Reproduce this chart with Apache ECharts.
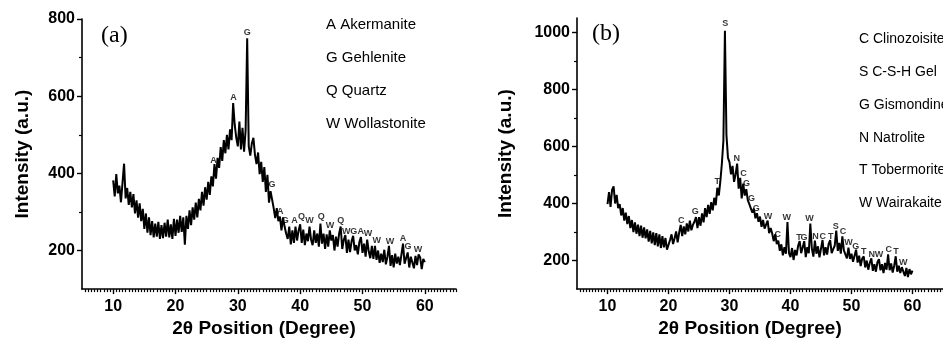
<!DOCTYPE html>
<html><head><meta charset="utf-8">
<script src="https://cdn.jsdelivr.net/npm/echarts@6/dist/echarts.min.js"></script>
<style>html,body{margin:0;padding:0;background:#fff}#c{width:943px;height:343px}</style>
</head><body><div id="c"></div>
<script>
// ---- data ----
const twoThetaStart = 10;
const twoThetaStep = 0.25;
// panel (a): intensity every 0.25 degree from 10 to 60
const intensityA = [
 382,340,398,348, 368,325,376,425, 335,362,318,352, 312,346,296,330,
 285,322,276,308, 256,296,246,286, 240,276,234,270, 236,274,230,266,
 232,272,236,280, 234,268,230,282, 238,280,246,290, 248,286,215,290,
 256,304,266,312, 280,324,286,334, 304,352,316,364, 332,378,344,392,
 366,424,386,440, 414,468,432,486, 452,500,462,514, 486,582,526,492,
 470,534,462,518, 456,512,750,470, 446,478,492,448, 424,454,398,430,
 378,416,352,396, 324,354,356,310, 284,310,276,288, 252,286,262,244,
 230,262,216,252, 220,262,226,252, 268,220,254,214, 244,224,262,228,
 214,252,220,244, 210,270,218,244, 204,242,210,252, 226,240,200,236,
 210,244,262,204, 228,240,194,228, 196,224,238,200, 214,190,222,235,
 194,218,184,228, 198,180,212,178, 212,176,200,168, 192,170,202,164,
 184,212,160,188, 156,192,166,184, 162,190,218,166, 162,195,156,184,
 180,154,186,162, 190,182,152,178, 170
];
// panel (b): intensity every 0.25 degree from 10 to 60
const intensityB = [
 398,440,388,448, 460,400,430,384, 398,358,384,340, 368,328,356,314,
 342,300,334,294, 326,286,322,280, 316,278,309,266, 304,260,299,254,
 296,250,292,244, 286,246,279,238, 232,272,292,258, 278,302,264,298,
 325,286,320,292, 330,302,340,306, 325,336,352,314, 352,322,365,334,
 384,352,395,364, 405,376,420,394, 455,428,478,540, 620,1005,640,560,
 545,502,532,476, 502,540,452,490, 418,470,428,450, 412,398,400,368,
 382,348,366,336, 354,318,342,312, 326,340,296,314, 295,268,292,258,
 270,234,257,218, 247,224,335,226, 212,244,202,237, 218,252,268,226,
 222,268,212,247, 226,330,242,214, 270,224,250,211, 242,272,218,247,
 221,258,272,226, 240,252,305,234, 262,224,285,236, 230,208,245,206,
 224,196,217,238, 193,217,181,207, 215,176,200,168, 192,208,164,187,
 161,194,205,166, 187,156,192,168, 222,166,190,158, 182,215,161,182,
 156,177,175,146, 174,142,170,152, 165
];
// phase letters: [letter, 2theta, intensity at label]
const peakLabelsA = [
 ['A',26.1,434],['A',29.3,597],['G',31.5,764],['G',35.5,371],['A',36.8,302],['G',37.6,277],
 ['A',39.1,277],['Q',40.2,287],['W',41.5,277],['Q',43.4,287],['W',44.8,266],['Q',46.5,279],
 ['W',47.4,249],['G',48.6,249],['A',49.7,249],['W',50.9,244],['W',52.3,227],['W',54.4,223],
 ['A',56.5,232],['G',57.3,210],['W',58.9,202]
];
const peakLabelsB = [
 ['C',22.1,340],['G',24.4,371],['T',28.0,478],['S',29.3,1032],['N',31.2,556],['C',32.3,504],
 ['G',32.8,469],['G',33.6,417],['G',34.4,383],['W',36.3,354],['C',37.9,291],['W',39.4,352],
 ['T',41.4,282],['G',42.2,282],['W',43.1,348],['N',44.1,285],['C',45.3,283],['T',46.6,283],
 ['S',47.4,319],['C',48.6,302],['W',49.5,262],['G',50.7,250],['T',52.0,233],['N',53.3,221],
 ['W',54.5,221],['C',56.1,239],['T',57.3,233],['W',58.5,192]
];
const legendA = ['A Akermanite','G Gehlenite','Q Quartz','W Wollastonite'];
const legendB = ['C Clinozoisite','S C-S-H Gel','G Gismondine','N Natrolite','T Tobermorite','W Wairakaite'];
const panelLabels = ['(a)','(b)'];
const xTicks = [10,20,30,40,50,60];
const yTicksA = [200,400,600,800];
const yTicksB = [200,400,600,800,1000];
const yMinorA = [300,500,700];
const yMinorB = [300,500,700,900];
const xTitle = '2θ Position (Degree)';
const yTitle = 'Intensity (a.u.)';

// ---- build ----
const FONT = '"Liberation Sans", Arial, sans-serif';
const xMinor = [];
for (let v = 5.5; v <= 65; v += 0.5) { if (Math.abs(v/10 - Math.round(v/10)) > 1e-6) xMinor.push(v); }
function pairs(arr){ return arr.map((v,i)=>[twoThetaStart + i*twoThetaStep, v]); }
const plain = v => String(v);

function xMain(g, padRight){
  return {type:'value', gridIndex:g, position:'bottom', min:5, max:65,
    axisLine:{show:true,onZero:false,lineStyle:{color:'#000',width:1.6}},
    axisTick:{show:true,customValues:xTicks,length:5,lineStyle:{color:'#000',width:1.4}},
    axisLabel:{show:true,customValues:xTicks,formatter:plain,margin:9,color:'#000',fontSize:16,fontWeight:'bold',fontFamily:FONT},
    splitLine:{show:false},
    name:xTitle,nameLocation:'middle',nameGap:29,
    nameTextStyle:{color:'#000',fontSize:19,fontWeight:'bold',fontFamily:FONT,padding:[0,padRight,0,0]}};
}
function xMin(g){
  return {type:'value', gridIndex:g, position:'bottom', min:5, max:65,
    axisLine:{show:false,onZero:false}, axisLabel:{show:false}, splitLine:{show:false},
    axisTick:{show:true,customValues:xMinor,length:3,lineStyle:{color:'#000',width:1.2}}};
}
function yMain(g, max, ticks, gap){
  return {type:'value', gridIndex:g, position:'left', min:100, max:max,
    axisLine:{show:true,onZero:false,lineStyle:{color:'#000',width:1.6}},
    axisTick:{show:true,customValues:ticks,length:5,lineStyle:{color:'#000',width:1.4}},
    axisLabel:{show:true,customValues:ticks,formatter:plain,margin:7,color:'#000',fontSize:16,fontWeight:'bold',fontFamily:FONT},
    splitLine:{show:false},
    name:yTitle,nameLocation:'middle',nameGap:gap,
    nameTextStyle:{color:'#000',fontSize:19,fontWeight:'bold',fontFamily:FONT}};
}
function yMin(g, max, ticks){
  return {type:'value', gridIndex:g, position:'left', min:100, max:max,
    axisLine:{show:false,onZero:false}, axisLabel:{show:false}, splitLine:{show:false},
    axisTick:{show:true,customValues:ticks,length:3,lineStyle:{color:'#000',width:1.2}}};
}
function labelSeries(list, ax){
  return {type:'scatter', xAxisIndex:ax, yAxisIndex:ax, symbolSize:0, silent:true, z:5,
    data: list.map(p=>({value:[p[1],p[2]], label:{formatter:p[0]}})),
    label:{show:true,position:'inside',fontSize:9,fontWeight:'bold',color:'#000',fontFamily:FONT}};
}
function lineSeries(arr, ax){
  return {type:'line', xAxisIndex:ax, yAxisIndex:ax, data:pairs(arr), showSymbol:false, symbol:'none',
    sampling:null, lineStyle:{color:'#000',width:2}, silent:true};
}
const graphics = [];
legendA.forEach((t,i)=>graphics.push({type:'text', x:326, y:25+i*32.8,
  style:{text:t, fontSize:15, fontFamily:FONT, fill:'#000', verticalAlign:'middle'}}));
legendB.forEach((t,i)=>graphics.push({type:'text', x:859, y:39+i*32.9,
  style:{text:t, fontSize:14, fontFamily:FONT, fill:'#000', verticalAlign:'middle'}}));
graphics.push({type:'text', x:101, y:36, style:{text:panelLabels[0], fontSize:24, fontFamily:'"Liberation Serif", "Times New Roman", serif', fill:'#000', verticalAlign:'middle'}});
graphics.push({type:'text', x:592, y:34, style:{text:panelLabels[1], fontSize:24, fontFamily:'"Liberation Serif", "Times New Roman", serif', fill:'#000', verticalAlign:'middle'}});

const chart = echarts.init(document.getElementById('c'), null, {renderer:'canvas'});
chart.setOption({
  animation:false,
  backgroundColor:'#fff',
  grid:[
    {left:82, top:19, width:374, height:274},
    {left:577, top:18, width:374, height:275}
  ],
  xAxis:[xMain(0,10), xMin(0), xMain(1,20), xMin(1)],
  yAxis:[yMain(0,800,yTicksA,50), yMin(0,800,yMinorA), yMain(1,1050,yTicksB,62), yMin(1,1050,yMinorB)],
  series:[
    lineSeries(intensityA,0), labelSeries(peakLabelsA,0),
    lineSeries(intensityB,2), labelSeries(peakLabelsB,2)
  ],
  graphic: graphics
});
</script></body></html>
